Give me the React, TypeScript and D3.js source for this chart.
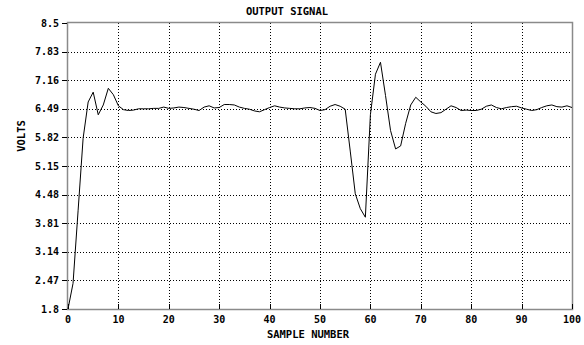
import React, { useRef, useEffect } from 'react';
import * as d3 from 'd3';

// sample values (sample 0..100)
const samples: number[] = d3.range(0, 101);
const volts: number[] = [
  1.8, 2.4, 4.1, 5.8, 6.65, 6.88, 6.35, 6.58, 6.97, 6.82,
  6.56, 6.47, 6.45, 6.46, 6.49, 6.49, 6.49, 6.5, 6.5, 6.53,
  6.5, 6.51, 6.53, 6.52, 6.5, 6.48, 6.45, 6.53, 6.56, 6.51,
  6.52, 6.59, 6.59, 6.58, 6.53, 6.5, 6.48, 6.44, 6.42, 6.47,
  6.52, 6.56, 6.53, 6.51, 6.5, 6.49, 6.49, 6.51, 6.52, 6.5,
  6.45, 6.47, 6.55, 6.59, 6.55, 6.48, 5.5, 4.5, 4.15, 3.95,
  6.35, 7.3, 7.58, 6.8, 5.98, 5.55, 5.62, 6.15, 6.58, 6.76,
  6.65, 6.55, 6.42, 6.38, 6.4, 6.48, 6.56, 6.52, 6.45, 6.46,
  6.45, 6.45, 6.48, 6.55, 6.58, 6.52, 6.49, 6.52, 6.54, 6.55,
  6.51, 6.48, 6.45, 6.47, 6.52, 6.56, 6.58, 6.54, 6.53, 6.56,
  6.52,
];
const yTicks: number[] = [1.8, 2.47, 3.14, 3.81, 4.48, 5.15, 5.82, 6.49, 7.16, 7.83, 8.5];
const xTicks: number[] = [0, 10, 20, 30, 40, 50, 60, 70, 80, 90, 100];

const FONT = '"DejaVu Sans Mono", monospace';

const OutputSignalChart = () => {
  const ref = useRef<SVGSVGElement>(null);

  useEffect(() => {
    const width = 584;
    const height = 345;
    const left = 68, right = 572, top = 23, bottom = 309;

    const svg = d3.select(ref.current);
    svg.selectAll('*').remove();
    svg.attr('width', width).attr('height', height);

    const x = d3.scaleLinear().domain([0, 100]).range([left, right]);
    const y = d3.scaleLinear().domain([1.8, 8.5]).range([bottom, top]);

    svg.append('rect').attr('width', width).attr('height', height).attr('fill', '#fff');

    // dotted grid
    const grid = svg.append('g')
      .attr('stroke', '#000')
      .attr('stroke-width', 1)
      .attr('stroke-dasharray', '1,2');
    grid.selectAll('line.gx')
      .data(xTicks.slice(1, -1))
      .join('line')
      .attr('x1', d => Math.round(x(d)) + 0.5)
      .attr('x2', d => Math.round(x(d)) + 0.5)
      .attr('y1', top)
      .attr('y2', bottom);
    grid.selectAll('line.gy')
      .data(yTicks.slice(1, -1))
      .join('line')
      .attr('x1', left)
      .attr('x2', right)
      .attr('y1', d => Math.round(y(d)) + 0.5)
      .attr('y2', d => Math.round(y(d)) + 0.5);

    // frame
    svg.append('rect')
      .attr('x', left - 0.5)
      .attr('y', top - 0.5)
      .attr('width', right - left + 1)
      .attr('height', bottom - top + 1)
      .attr('fill', 'none')
      .attr('stroke', '#8a8a8a')
      .attr('stroke-width', 1.5);

    // y ticks (outside) and labels
    svg.append('g').selectAll('line')
      .data(yTicks)
      .join('line')
      .attr('x1', left - 6)
      .attr('x2', left - 1)
      .attr('y1', d => Math.round(y(d)) + 0.5)
      .attr('y2', d => Math.round(y(d)) + 0.5)
      .attr('stroke', '#000');
    svg.append('g').selectAll('text')
      .data(yTicks)
      .join('text')
      .attr('x', left - 9)
      .attr('y', d => y(d) + 3.5)
      .attr('text-anchor', 'end')
      .style('font-family', FONT)
      .style('font-weight', 'bold')
      .style('font-size', '10px')
      .text(d => String(d));

    // x ticks (inside) and labels
    svg.append('g').selectAll('line')
      .data(xTicks)
      .join('line')
      .attr('x1', d => Math.round(x(d)) + 0.5)
      .attr('x2', d => Math.round(x(d)) + 0.5)
      .attr('y1', bottom)
      .attr('y2', bottom - 5)
      .attr('stroke', '#000');
    svg.append('g').selectAll('text')
      .data(xTicks)
      .join('text')
      .attr('x', d => x(d))
      .attr('y', bottom + 14)
      .attr('text-anchor', 'middle')
      .style('font-family', FONT)
      .style('font-weight', 'bold')
      .style('font-size', '10px')
      .text(d => String(d));

    // signal line
    const line = d3.line<number>()
      .x((_, i) => x(samples[i]))
      .y(d => y(d));
    svg.append('path')
      .datum(volts)
      .attr('d', line)
      .attr('fill', 'none')
      .attr('stroke', '#000')
      .attr('stroke-width', 1);

    // titles
    svg.append('text')
      .attr('x', 287)
      .attr('y', 15)
      .attr('text-anchor', 'middle')
      .style('font-family', FONT)
      .style('font-weight', 'bold')
      .style('font-size', '10.5px')
      .text('OUTPUT SIGNAL');
    svg.append('text')
      .attr('x', 308)
      .attr('y', 338)
      .attr('text-anchor', 'middle')
      .style('font-family', FONT)
      .style('font-weight', 'bold')
      .style('font-size', '10.5px')
      .text('SAMPLE NUMBER');
    svg.append('text')
      .attr('transform', 'translate(25,136) rotate(-90)')
      .attr('text-anchor', 'middle')
      .style('font-family', FONT)
      .style('font-weight', 'bold')
      .style('font-size', '10.5px')
      .text('VOLTS');
  }, []);

  return <svg ref={ref} style={{ display: 'block' }}></svg>;
};

export default function App() {
  return (
    <div style={{ position: 'fixed', left: 0, top: 0, width: 584, height: 345, overflow: 'hidden' }}>
      <OutputSignalChart />
    </div>
  );
}
